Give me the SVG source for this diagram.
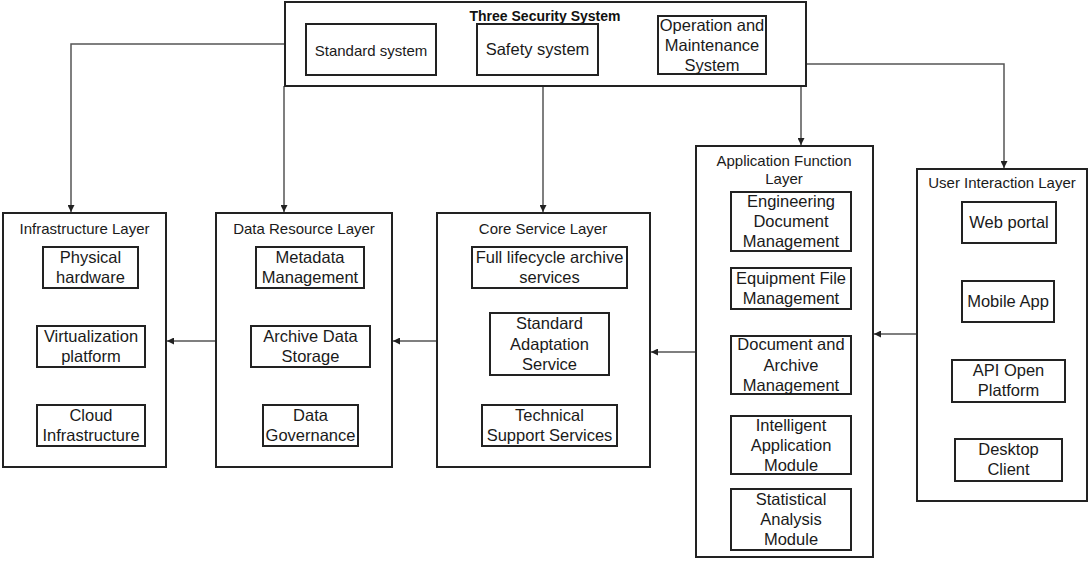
<svg xmlns="http://www.w3.org/2000/svg" width="1089" height="561" viewBox="0 0 1089 561">
<defs>
<marker id="ah" viewBox="0 0 10 10" refX="10" refY="5" markerWidth="7" markerHeight="7" markerUnits="userSpaceOnUse" orient="auto">
<path d="M0,0 L10,5 L0,10 z" fill="#222"/>
</marker>
<style>
.box{fill:#fff;stroke:#222;stroke-width:2}
.sub{fill:#fff;stroke:#222;stroke-width:2}
.t{font-family:"Liberation Sans",Arial,sans-serif;font-size:16.5px;fill:#1a1a1a;text-anchor:middle}
.lt{font-family:"Liberation Sans",Arial,sans-serif;font-size:15px;fill:#1a1a1a;text-anchor:middle}
.tt{font-family:"Liberation Sans",Arial,sans-serif;font-size:14px;font-weight:bold;fill:#111;text-anchor:middle}
.c{fill:none;stroke:#555;stroke-width:1.5;marker-end:url(#ah)}
</style>
</defs>
<rect width="1089" height="561" fill="#fff"/>

<g id="connectors">
<path class="c" d="M285,44 H71 V212"/>
<path class="c" d="M284,86 V212"/>
<path class="c" d="M543,86 V212"/>
<path class="c" d="M801,86 V145"/>
<path class="c" d="M806,64 H1004 V168"/>
<path class="c" d="M917,334 H874"/>
<path class="c" d="M696,352 H651"/>
<path class="c" d="M437,341 H393"/>
<path class="c" d="M216,341 H167"/>
</g>

<g id="three-security-system">
<rect class="box" x="285" y="2" width="521" height="84"/>
<text class="tt" x="545" y="21">Three Security System</text>
<g id="standard-system"><rect class="sub" x="306" y="24" width="130" height="51"/><text class="t" x="371" y="56" style="font-size:15px">Standard system</text></g>
<g id="safety-system"><rect class="sub" x="477" y="24" width="121" height="51"/><text class="t" x="537.5" y="55">Safety system</text></g>
<g id="om-system"><rect class="sub" x="658" y="16" width="108" height="58"/><text class="t" x="712" y="31">Operation and</text><text class="t" x="712" y="51">Maintenance</text><text class="t" x="712" y="71">System</text></g>
</g>

<g id="infrastructure-layer">
<rect class="box" x="3" y="213" width="163" height="254"/>
<text class="lt" x="84.5" y="234">Infrastructure Layer</text>
<g id="physical-hardware"><rect class="sub" x="43" y="247" width="95" height="41"/><text class="t" x="90.5" y="263">Physical</text><text class="t" x="90.5" y="283">hardware</text></g>
<g id="virtualization-platform"><rect class="sub" x="37" y="326" width="108" height="41"/><text class="t" x="91" y="342">Virtualization</text><text class="t" x="91" y="362">platform</text></g>
<g id="cloud-infrastructure"><rect class="sub" x="37" y="405" width="108" height="41"/><text class="t" x="91" y="421">Cloud</text><text class="t" x="91" y="441">Infrastructure</text></g>
</g>

<g id="data-resource-layer">
<rect class="box" x="216" y="213" width="176" height="254"/>
<text class="lt" x="304" y="234">Data Resource Layer</text>
<g id="metadata-management"><rect class="sub" x="256" y="247" width="108" height="41"/><text class="t" x="310" y="263">Metadata</text><text class="t" x="310" y="283">Management</text></g>
<g id="archive-data-storage"><rect class="sub" x="251" y="326" width="119" height="41"/><text class="t" x="310.5" y="342">Archive Data</text><text class="t" x="310.5" y="362">Storage</text></g>
<g id="data-governance"><rect class="sub" x="263" y="405" width="95" height="41"/><text class="t" x="310.5" y="421">Data</text><text class="t" x="310.5" y="441">Governance</text></g>
</g>

<g id="core-service-layer">
<rect class="box" x="437" y="213" width="213" height="254"/>
<text class="lt" x="543" y="234">Core Service Layer</text>
<g id="full-lifecycle"><rect class="sub" x="472" y="247" width="155" height="41"/><text class="t" x="549.5" y="263">Full lifecycle archive</text><text class="t" x="549.5" y="283">services</text></g>
<g id="standard-adaptation"><rect class="sub" x="490" y="313" width="119" height="62"/><text class="t" x="549.5" y="329">Standard</text><text class="t" x="549.5" y="349.5">Adaptation</text><text class="t" x="549.5" y="370">Service</text></g>
<g id="technical-support"><rect class="sub" x="482" y="405" width="135" height="41"/><text class="t" x="549.5" y="421">Technical</text><text class="t" x="549.5" y="441">Support Services</text></g>
</g>

<g id="application-function-layer">
<rect class="box" x="696" y="146" width="177" height="411"/>
<text class="lt" x="784" y="166">Application Function</text>
<text class="lt" x="784" y="184">Layer</text>
<g id="engineering-doc"><rect class="sub" x="731" y="192" width="120" height="59"/><text class="t" x="791" y="207">Engineering</text><text class="t" x="791" y="227">Document</text><text class="t" x="791" y="247">Management</text></g>
<g id="equipment-file"><rect class="sub" x="731" y="268" width="120" height="41"/><text class="t" x="791" y="284">Equipment File</text><text class="t" x="791" y="304">Management</text></g>
<g id="document-archive"><rect class="sub" x="731" y="336" width="120" height="58"/><text class="t" x="791" y="350">Document and</text><text class="t" x="791" y="371">Archive</text><text class="t" x="791" y="391">Management</text></g>
<g id="intelligent-app"><rect class="sub" x="731" y="416" width="120" height="58"/><text class="t" x="791" y="431">Intelligent</text><text class="t" x="791" y="451">Application</text><text class="t" x="791" y="471">Module</text></g>
<g id="statistical-analysis"><rect class="sub" x="731" y="489" width="120" height="61"/><text class="t" x="791" y="505">Statistical</text><text class="t" x="791" y="525">Analysis</text><text class="t" x="791" y="545">Module</text></g>
</g>

<g id="user-interaction-layer">
<rect class="box" x="917" y="169" width="170" height="332"/>
<text class="lt" x="1002" y="188">User Interaction Layer</text>
<g id="web-portal"><rect class="sub" x="962" y="202" width="94" height="41"/><text class="t" x="1009" y="228">Web portal</text></g>
<g id="mobile-app"><rect class="sub" x="962" y="281" width="92" height="41"/><text class="t" x="1008" y="307">Mobile App</text></g>
<g id="api-open-platform"><rect class="sub" x="952" y="360" width="113" height="42"/><text class="t" x="1008.5" y="376">API Open</text><text class="t" x="1008.5" y="396">Platform</text></g>
<g id="desktop-client"><rect class="sub" x="955" y="439" width="107" height="42"/><text class="t" x="1008.5" y="455">Desktop</text><text class="t" x="1008.5" y="475">Client</text></g>
</g>
</svg>
